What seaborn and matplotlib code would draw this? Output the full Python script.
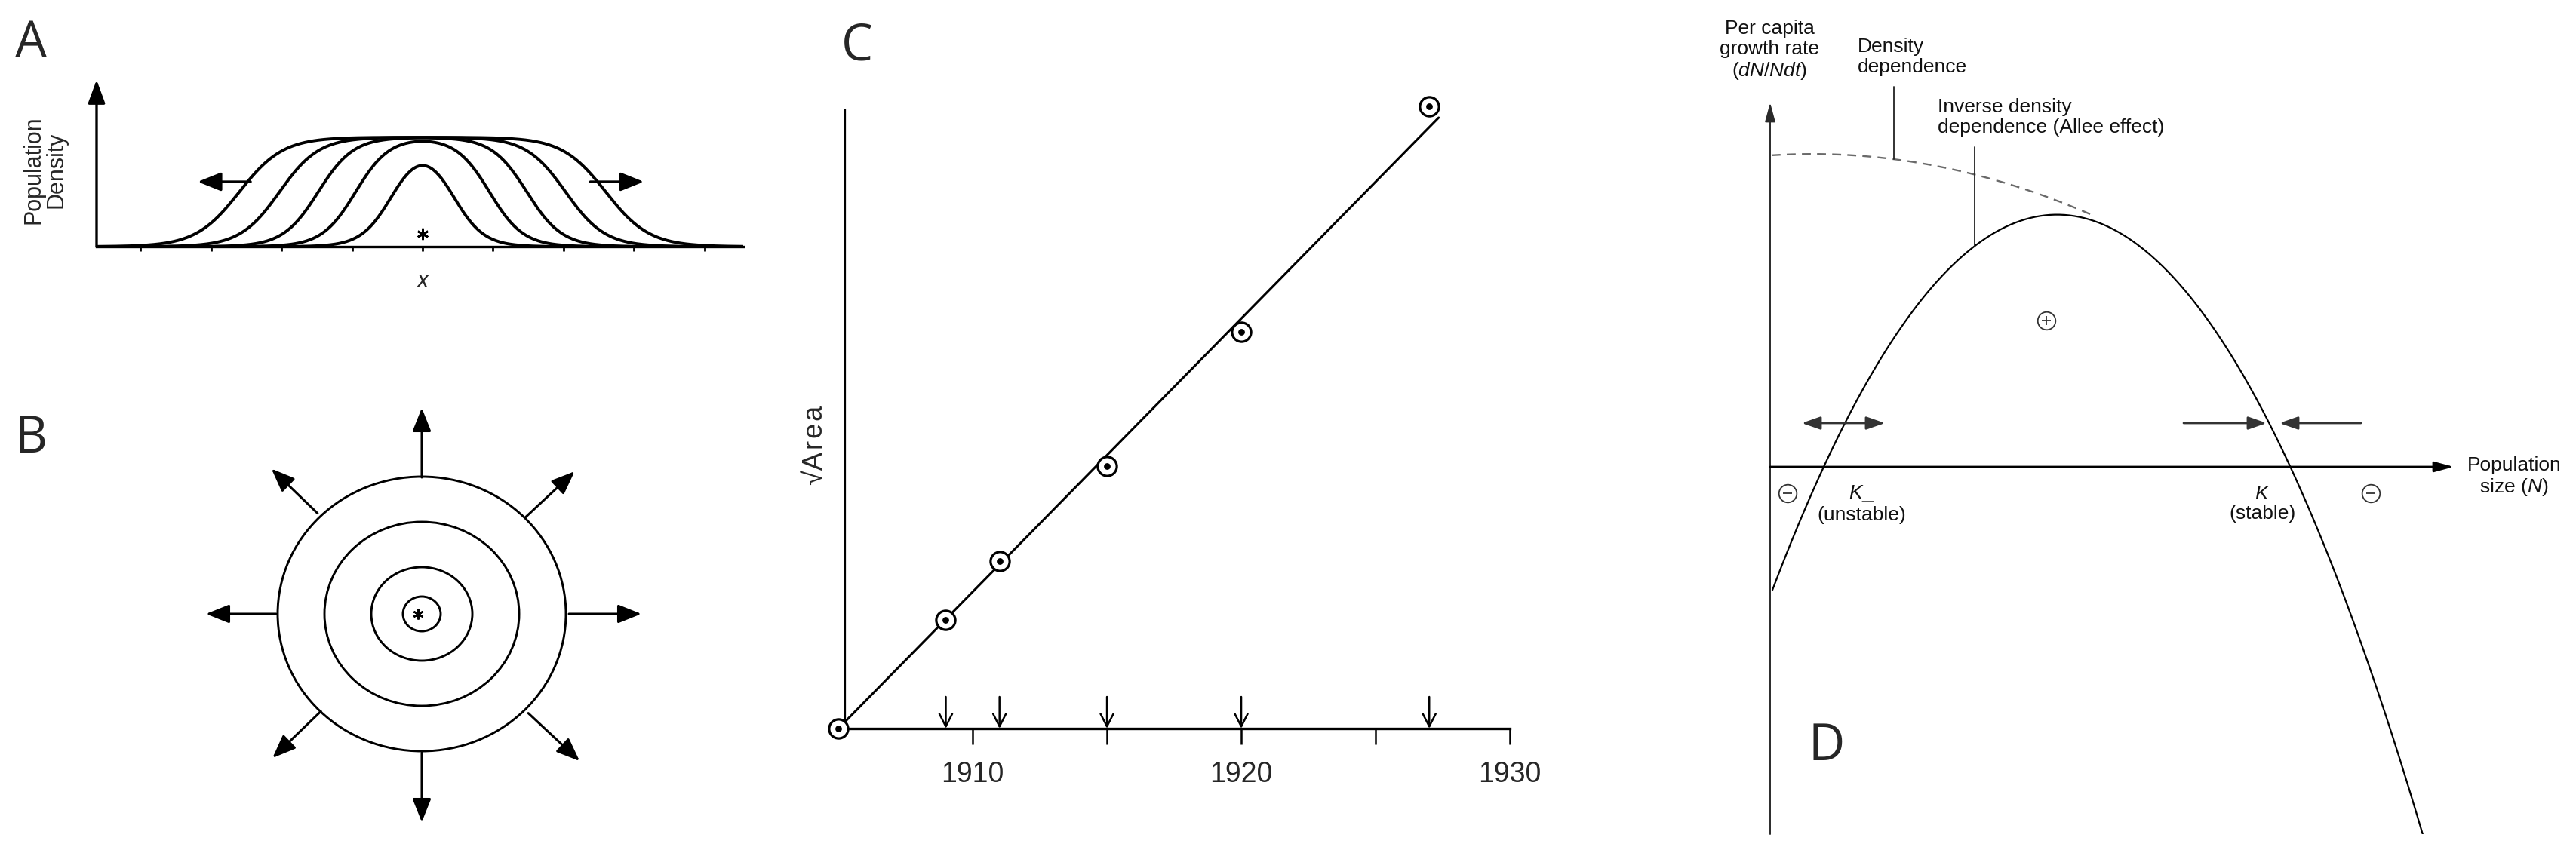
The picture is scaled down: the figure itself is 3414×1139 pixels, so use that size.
import numpy as np
import pandas as pd
import matplotlib
matplotlib.use("Agg")
import matplotlib.pyplot as plt
from matplotlib.patches import Ellipse
import seaborn as sns

# ---------------- data ----------------
# Panel A: travelling-wave density profiles (front half-width, edge softness)
wave_front_radius = [0.42, 0.95, 1.48, 2.03, 2.60]
wave_edge_width = [0.22, 0.24, 0.25, 0.28, 0.31]
a_ticks = [-4, -3, -2, -1, 0, 1, 2, 3, 4]
a_arrow_tail = [-2.44, 2.38]
a_arrow_head = [-3.19, 3.14]
a_arrow_level = 0.593
a_origin_height = 0.117

# Panel B: concentric rings (x radius, y radius) and outward arrows
ring_rx = [1.91, 1.29, 0.67, 0.25]
ring_ry = [1.82, 1.22, 0.62, 0.23]
spread_angle = [0, 43, 90, 136, 180, 224, 270, 317]
spread_r_start = [1.95, 1.87, 1.81, 1.92, 1.93, 1.86, 1.84, 1.93]
spread_r_end = [2.91, 2.77, 2.73, 2.77, 2.86, 2.75, 2.76, 2.86]

# Panel C: sqrt(area) against year
years = [1905, 1909, 1911, 1915, 1920, 1927]
sqrt_area = [0.0, 1.44, 2.22, 3.48, 5.26, 8.25]
fit_years = [1905, 1927.35]
fit_sqrt_area = [0.0, 8.10]
arrow_years = [1909, 1911, 1915, 1920, 1927]
c_ticks = [1910, 1915, 1920, 1925, 1930]
c_ticklabels = ["1910", "", "1920", "", "1930"]

# Panel D: per-capita growth rate vs population size
allee_N = [0.03, 0.72, 2.71, 3.86, 5.81, 6.89, 8.66]
allee_r = [-1.62, 0.0, 2.91, 3.40, 1.90, 0.0, -4.90]
logistic_N = [0.02, 1.64, 2.71, 4.28]
logistic_r = [4.135, 4.065, 3.89, 3.33]
sign_N = [0.23, 3.66, 7.96]
sign_r = [-0.35, 1.94, -0.35]
sign_kind = ["-", "+", "-"]
flow_level = 0.58

# ---------------- figure ----------------
sns.set_theme(style="white")
plt.rcParams["font.family"] = ["Liberation Sans", "DejaVu Sans"]
plt.rcParams["mathtext.fontset"] = "custom"
plt.rcParams["mathtext.rm"] = "Liberation Sans"
plt.rcParams["mathtext.it"] = "Liberation Sans:italic"

W, H = 3414, 1139
fig = plt.figure(figsize=(W / 100, H / 100), dpi=100)
fig.patch.set_facecolor("white")


def box(x0, y0, x1, y1):
    return [x0 / W, 1 - y1 / H, (x1 - x0) / W, (y1 - y0) / H]


def ftext(x, y, s, **kw):
    fig.text(x / W, 1 - y / H, s, **kw)


# panel letters
for lab, (lx, ly) in {"A": (41, 58), "B": (41, 582), "C": (1136, 62), "D": (2421, 990)}.items():
    ftext(lx, ly, lab, fontsize=48, family=["Open Sans", "DejaVu Sans"], ha="center", va="center")

# ---------------- Panel A ----------------
axA = fig.add_axes(box(128, 106, 985, 327))
xa = np.linspace(-4.625, 4.55, 800)
rows = []
for i, (R, s) in enumerate(zip(wave_front_radius, wave_edge_width)):
    dens = 1 / (1 + np.exp(-(xa + R) / s)) - 1 / (1 + np.exp(-(xa - R) / s))
    rows.append(pd.DataFrame({"x": xa, "density": dens, "curve": i}))
dfA = pd.concat(rows)
sns.lineplot(data=dfA, x="x", y="density", units="curve", estimator=None,
             color="black", lw=2.8, ax=axA, legend=False)
axA.set_xlim(-4.625, 4.55)
axA.set_ylim(0, 1.524)
for sp in ["top", "right", "left"]:
    axA.spines[sp].set_visible(False)
axA.spines["bottom"].set_linewidth(2.4)
axA.spines["bottom"].set_color("black")
axA.set_xticks(a_ticks)
axA.set_yticks([])
axA.tick_params(axis="x", bottom=True, direction="out", length=4.5, width=2,
                color="black", labelbottom=False)
axA.set_xlabel("")
axA.set_ylabel("")
axA.annotate("", xy=(0, 1), xytext=(0, 0), xycoords="axes fraction",
             arrowprops=dict(arrowstyle="-|>,head_length=0.95,head_width=0.35",
                             mutation_scale=20, lw=2.4, color="black",
                             shrinkA=0, shrinkB=0))
for t0, t1 in zip(a_arrow_tail, a_arrow_head):
    axA.annotate("", xy=(t1, a_arrow_level), xytext=(t0, a_arrow_level),
                 arrowprops=dict(arrowstyle="-|>,head_length=0.95,head_width=0.38",
                                 mutation_scale=20, lw=2.4, color="black",
                                 shrinkA=0, shrinkB=0))
axA.plot(0, a_origin_height, marker=(6, 2, 0), ms=11, mew=2, color="black")
axA.text(0, -0.317, "x", style="italic", ha="center", va="center", fontsize=22)
ftext(59, 225, "Population\nDensity", rotation=90, ha="center", va="center",
      fontsize=22, linespacing=1.0, multialignment="center")

# ---------------- Panel B ----------------
axB = fig.add_axes(box(250, 500, 870, 1120))
axB.set_xlim(-3.09, 3.11)
axB.set_ylim(-3.06, 3.14)
axB.set_aspect("equal")
axB.axis("off")
for rx, ry in zip(ring_rx, ring_ry):
    axB.add_patch(Ellipse((0, 0), 2 * rx, 2 * ry, fill=False, lw=2.1, ec="black"))
for ang, r0, r1 in zip(spread_angle, spread_r_start, spread_r_end):
    a = np.deg2rad(ang)
    axB.annotate("", xy=(r1 * np.cos(a), r1 * np.sin(a)),
                 xytext=(r0 * np.cos(a), r0 * np.sin(a)),
                 arrowprops=dict(arrowstyle="-|>,head_length=0.95,head_width=0.38",
                                 mutation_scale=20, lw=2.2, color="black",
                                 shrinkA=0, shrinkB=0))
axB.plot(-0.05, 0, marker=(6, 2, 0), ms=10, mew=1.8, color="black")

# ---------------- Panel C ----------------
axC = fig.add_axes(box(1120, 146, 2001, 966))
sns.lineplot(x=fit_years, y=fit_sqrt_area, color="black", lw=2.2, ax=axC)
axC.scatter(years, sqrt_area, s=330, facecolor="white", edgecolor="black",
            linewidths=2.3, zorder=3, clip_on=False)
axC.scatter(years, sqrt_area, s=28, color="black", zorder=4, clip_on=False)
for yr in arrow_years:
    axC.annotate("", xy=(yr, 0), xytext=(yr, 0.42),
                 arrowprops=dict(arrowstyle="->,head_length=0.55,head_width=0.28",
                                 mutation_scale=22, lw=1.8, color="black",
                                 shrinkA=0, shrinkB=0))
axC.set_xlim(1905.25, 1930)
axC.set_ylim(0, 8.2)
for sp in ["top", "right"]:
    axC.spines[sp].set_visible(False)
axC.spines["left"].set_linewidth(1.6)
axC.spines["bottom"].set_linewidth(2.4)
for sp in ["left", "bottom"]:
    axC.spines[sp].set_color("black")
axC.set_xticks(c_ticks)
axC.set_xticklabels(c_ticklabels)
axC.set_yticks([])
axC.tick_params(axis="x", bottom=True, direction="out", length=15, width=1.8,
                color="black", pad=16, labelsize=27)
axC.set_xlabel("")
axC.set_ylabel("")
ftext(1080, 590, "√A\u200ar\u200ae\u200aa", rotation=90, ha="center", va="center", fontsize=26)

# ---------------- Panel D ----------------
axD = fig.add_axes(box(2346, 136, 3252, 1106))
axD.set_xlim(0, 9.06)
axD.set_ylim(-4.87, 4.83)
axD.axis("off")
axes_col = "#2a2a2a"
axD.annotate("", xy=(0, 4.83), xytext=(0, -4.87),
             arrowprops=dict(arrowstyle="-|>,head_length=1.3,head_width=0.35",
                             mutation_scale=12, lw=1.4, color=axes_col,
                             shrinkA=0, shrinkB=0))
axD.annotate("", xy=(9.06, 0), xytext=(0, 0),
             arrowprops=dict(arrowstyle="-|>,head_length=1.3,head_width=0.35",
                             mutation_scale=12, lw=2.0, color="black",
                             shrinkA=0, shrinkB=0))

pa = np.polyfit(allee_N, allee_r, 2)
nA = np.linspace(allee_N[0], allee_N[-1], 400)
sns.lineplot(x=nA, y=np.polyval(pa, nA), color="black", lw=1.6, ax=axD)
pl = np.polyfit(logistic_N, logistic_r, 2)
nL = np.linspace(logistic_N[0], logistic_N[-1], 200)
sns.lineplot(x=nL, y=np.polyval(pl, nL), color="#6a6a6a", lw=1.7, ax=axD,
             dashes=False, linestyle=(0, (5, 3.5)))

# pointer lines
axD.plot([1.64, 1.64], [5.04, np.polyval(pl, 1.64)], color="#222222", lw=1.3, clip_on=False)
axD.plot([2.71, 2.71], [4.24, np.polyval(pa, 2.71)], color="#222222", lw=1.3, clip_on=False)

# flow arrows
arrow_kw = dict(arrowstyle="-|>,head_length=1.0,head_width=0.35", mutation_scale=15,
                lw=2.0, color="#333333", shrinkA=0, shrinkB=0)
axD.annotate("", xy=(0.42, flow_level), xytext=(0.97, flow_level), arrowprops=arrow_kw)
axD.annotate("", xy=(1.52, flow_level), xytext=(0.97, flow_level), arrowprops=arrow_kw)
axD.annotate("", xy=(6.58, flow_level), xytext=(5.48, flow_level), arrowprops=arrow_kw)
axD.annotate("", xy=(6.75, flow_level), xytext=(7.83, flow_level), arrowprops=arrow_kw)

# circled signs
for n_, r_, k_ in zip(sign_N, sign_r, sign_kind):
    axD.plot(n_, r_, "o", ms=17, mfc="white", mec="#333333", mew=1.3, zorder=5)
    axD.plot(n_, r_, "+" if k_ == "+" else "_", ms=8, mew=1.3, color="#333333", zorder=6)

tk = dict(fontsize=19, color="#111111", linespacing=1.15)
axD.text(-0.01, 5.52, "Per capita\ngrowth rate\n($\\mathit{dN/Ndt}$)", ha="center", va="center",
         multialignment="center", clip_on=False, **tk)
axD.text(1.16, 5.435, "Density\ndependence", ha="left", va="center", clip_on=False, **tk)
axD.text(2.22, 4.635, "Inverse density\ndependence (Allee effect)", ha="left", va="center",
         clip_on=False, **tk)
axD.text(9.86, -0.135, "Population\nsize ($\\mathit{N}$)", ha="center", va="center",
         multialignment="center", clip_on=False, **tk)
axD.text(1.21, -0.49, "$\\mathit{K}$_\n(unstable)", ha="center", va="center",
         multialignment="center", **tk)
axD.text(6.52, -0.49, "$\\mathit{K}$\n(stable)", ha="center", va="center",
         multialignment="center", **tk)

fig.savefig("out.png", dpi=100, facecolor="white")
